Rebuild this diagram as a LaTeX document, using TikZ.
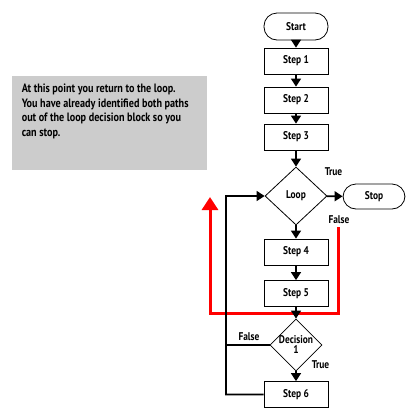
\documentclass[tikz,border=0pt]{standalone}
\usepackage{fontspec}
\setmainfont{PT Sans}[FakeStretch=0.84]
\usepackage{tikz}
\usetikzlibrary{
        arrows.meta,
        positioning,
        shapes,
        shapes.geometric
    }
\tikzset{>={Triangle[width=10bp,length=8bp]},auto,node distance=38bp}

\begin{document}
\begin{tikzpicture}[x=1bp,y=-1bp,line width=1.6bp,font=\fontsize{11.2bp}{12bp}\selectfont\bfseries]
        \tikzset{box/.style={draw,line width=0.8bp,minimum width=64bp,minimum height=26bp,inner sep=0pt}}
        \tikzset{term/.style={draw,line width=0.8bp,rounded corners=13bp,minimum width=64bp,minimum height=27bp,inner sep=0pt}}
        \tikzset{decision/.style={draw,line width=0.8bp,diamond,inner sep=0pt,align=center}}
        \tikzset{lbl/.style={inner sep=0pt}}
        \useasboundingbox (0,0) rectangle (420,420);
        \fill[gray!40] (12,76) rectangle (207,170);
        \node[lbl,anchor=north west,align=left,font=\fontsize{12.1bp}{14.7bp}\selectfont\bfseries] (note) at (21,83)
            {At this point you return to the loop.\\You have already identified both paths\\out of the loop decision block so you\\can stop.};
        \node[term]  (start) at (296,26.5)   {Start};
        \node[box] (s1)  [below of=start, node distance=34.5bp]    {Step 1};
        \node[box] (s2)  [below of=s1, node distance=39bp]    {Step 2};
        \node[box] (s3)  [below of=s2, node distance=37bp]    {Step 3};
        \node[decision,minimum width=62bp,minimum height=58bp] (loop)  [below of=s3, node distance=59bp]    {Loop};
        \node[term,minimum width=62bp,minimum height=25bp] (stop) at (374,196.5)    {Stop};
        \node[box] (s4)  [below of=loop, node distance=56bp]    {Step 4};
        \node[box] (s5)  [below of=s4, node distance=41.5bp]    {Step 5};
        \node[decision,minimum width=50bp,minimum height=46bp] (dec)  [below of=s5, node distance=51.5bp]    {Decision\\[-2bp]1};
        \node[box] (s6)  [below of=dec, node distance=49.5bp]    {Step 6};
        \node[lbl] (looptrue) at (333.5,172) {True};
        \node[lbl] (loopfalse) at (339,220) {False};
        \node[lbl] (decfalse) at (249,337) {False};
        \node[lbl] (dectrue) at (320.5,365) {True};
        \coordinate (back) at (226,196);
        \coordinate (rs) at (338,227);
        \coordinate (rc) at (338,313);
        \coordinate (re) at (210,197);
        \draw[red,line width=3bp,-{Triangle[width=16bp,length=13bp]}] (rs) -- (rc) -| (re);
        \path[->]
            (start)  edge  (s1)
            (s1)  edge  (s2)
            (s2)  edge  (s3)
            (s3)  edge  (loop)
            (loop)  edge  (stop)
            (loop)  edge  (s4)
            (s4)  edge  (s5)
            (s5)  edge  (dec)
            (dec)  edge  (s6)
        ;
        \draw (dec.west) -- (dec.west -| back);
        \draw[->] (s6.west) -| (back) -- (loop.west);
    \end{tikzpicture}
\end{document}
